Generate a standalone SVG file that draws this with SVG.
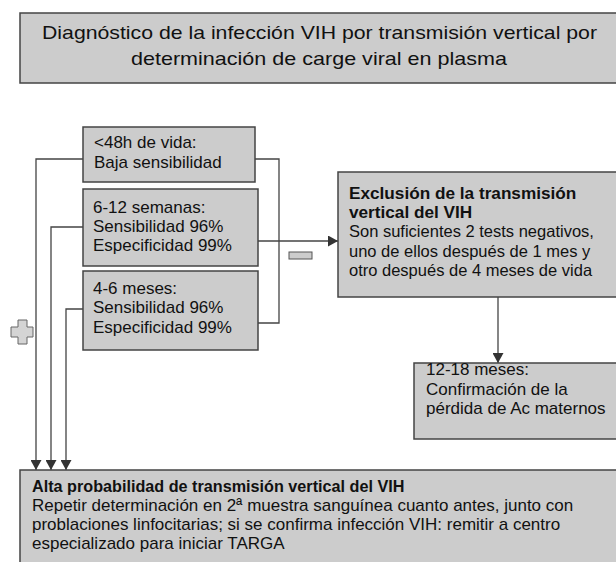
<svg xmlns="http://www.w3.org/2000/svg" width="616" height="562" viewBox="0 0 616 562">
<style>
.box{fill:#cccccc;stroke:#444444;stroke-width:1.5}
.t{font-family:"Liberation Sans",Arial,sans-serif;font-size:17px;fill:#111111}
.s{font-size:16.5px}
.r{font-size:17px}
.b{font-weight:bold}
.ln{fill:none;stroke:#444444;stroke-width:1.3}
</style>
<defs>
<marker id="ah" viewBox="0 0 10 11" refX="10" refY="5.5" markerWidth="10" markerHeight="11" markerUnits="userSpaceOnUse" orient="auto">
<path d="M0,0 L10,5.5 L0,11 Z" fill="#333333"/>
</marker>
</defs>
<g id="title">
<rect class="box" x="20" y="13" width="610" height="70"/>
<text class="t" x="42" y="39" textLength="555" lengthAdjust="spacingAndGlyphs" style="font-size:18.5px">Diagnóstico de la infección VIH por transmisión vertical por</text>
<text class="t" x="131" y="65" textLength="376" lengthAdjust="spacingAndGlyphs" style="font-size:18.5px">determinación de carge viral en plasma</text>
</g>
<g id="connectors">
<path class="ln" d="M83,159 H36 V470" marker-end="url(#ah)"/>
<path class="ln" d="M83,227 H51 V470" marker-end="url(#ah)"/>
<path class="ln" d="M83,309 H66 V470" marker-end="url(#ah)"/>
<path class="ln" d="M255,159 H279 V323 H258"/>
<path class="ln" d="M258,241 H338" marker-end="url(#ah)"/>
<path class="ln" d="M498,297 V363" marker-end="url(#ah)"/>
</g>
<g id="box48h">
<rect class="box" x="83" y="127" width="172" height="55"/>
<text class="t" x="94" y="148">&lt;48h de vida:</text>
<text class="t" x="94" y="168">Baja sensibilidad</text>
</g>
<g id="box612">
<rect class="box" x="83" y="189" width="175" height="77"/>
<text class="t" x="93" y="213">6-12 semanas:</text>
<text class="t" x="93" y="232">Sensibilidad 96%</text>
<text class="t" x="93" y="251">Especificidad 99%</text>
</g>
<g id="box46">
<rect class="box" x="83" y="271" width="175" height="79"/>
<text class="t" x="93" y="294">4-6 meses:</text>
<text class="t" x="93" y="313">Sensibilidad 96%</text>
<text class="t" x="93" y="333">Especificidad 99%</text>
</g>
<g id="minus">
<rect x="289" y="252" width="23" height="7" fill="#cccccc" stroke="#555555" stroke-width="1"/>
</g>
<g id="plus">
<path d="M18,320 H27 V327 H33 V337 H27 V344 H18 V337 H11 V327 H18 Z" fill="#d4d4d4" stroke="#666666" stroke-width="1"/>
</g>
<g id="exclusion">
<rect class="box" x="338" y="172" width="290" height="125"/>
<text class="t b" x="349" y="199" style="font-size:17.2px">Exclusión de la transmisión</text>
<text class="t b" x="349" y="218" style="font-size:17.2px">vertical del VIH</text>
<text class="t s" x="349" y="237">Son suficientes 2 tests negativos,</text>
<text class="t s" x="349" y="257">uno de ellos después de 1 mes y</text>
<text class="t s" x="349" y="276">otro después de 4 meses de vida</text>
</g>
<g id="box1218">
<rect class="box" x="414" y="363" width="214" height="76"/>
<text class="t" x="426" y="375">12-18 meses:</text>
<text class="t" x="426" y="395">Confirmación de la</text>
<text class="t" x="426" y="414">pérdida de Ac maternos</text>
</g>
<g id="alta">
<rect class="box" x="20" y="470" width="610" height="100"/>
<text class="t b" x="32" y="492" style="font-size:16.2px">Alta probabilidad de transmisión vertical del VIH</text>
<text class="t r" x="32" y="511">Repetir determinación en 2ª muestra sanguínea cuanto antes, junto con</text>
<text class="t r" x="32" y="530">problaciones linfocitarias; si se confirma infección VIH: remitir a centro</text>
<text class="t r" x="32" y="549">especializado para iniciar TARGA</text>
</g>
</svg>
